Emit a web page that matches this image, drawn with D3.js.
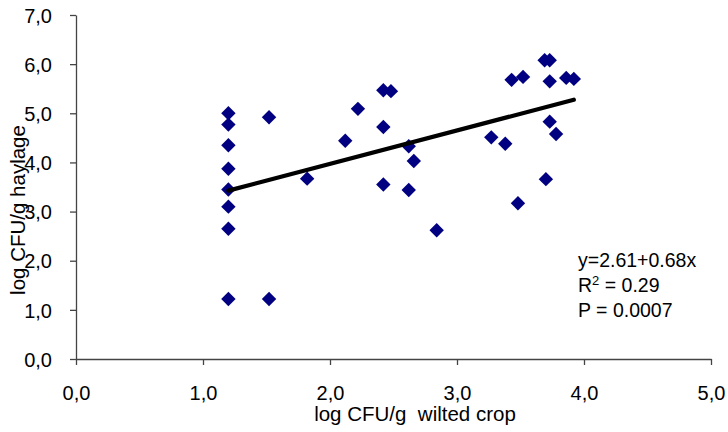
<!DOCTYPE html>
<html><head><meta charset="utf-8">
<script src="https://cdn.jsdelivr.net/npm/d3@7"></script>
<style>
html,body{margin:0;padding:0;background:#fff;}
text{font-family:"Liberation Sans",Arial,sans-serif;fill:#000;}
</style></head>
<body><svg id="c" width="728" height="432"></svg>
<script>
const xValues = [1.2,1.2,1.2,1.2,1.2,1.2,1.2,1.2,1.52,1.52,1.82,2.12,2.22,2.42,2.48,2.42,2.42,2.62,2.66,2.62,2.84,3.27,3.38,3.43,3.52,3.69,3.73,3.73,3.86,3.92,3.73,3.78,3.70,3.48];
const yValues = [5.0,4.77,4.35,3.87,3.45,3.10,2.65,1.22,4.92,1.22,3.67,4.44,5.09,5.47,5.45,4.72,3.55,4.33,4.03,3.44,2.62,4.51,4.38,5.68,5.74,6.08,6.08,5.65,5.72,5.70,4.83,4.58,3.66,3.17];
const fitIntercept = 2.61, fitSlope = 0.68;
const xTicks = [0,1,2,3,4,5];
const yTicks = [0,1,2,3,4,5,6,7];
const statLines = ["y=2.61+0.68x", "R", "2", " = 0.29", "P = 0.0007"];
const xTitle = "log CFU/g  wilted crop";
const yTitle = "log CFU/g haylage";

const svg = d3.select("#c");
const x = d3.scaleLinear().domain([0,5]).range([76,711]);
const y = d3.scaleLinear().domain([0,7]).range([359,15]);
const fmt = d => d.toFixed(1).replace(".", ",");

const xa = svg.append("g").attr("transform","translate(0,359)")
  .call(d3.axisBottom(x).tickValues(xTicks).tickSize(6).tickSizeOuter(0).tickFormat(fmt));
xa.selectAll("text").attr("font-size","20px").attr("dy","0").attr("y",41).attr("font-family","Liberation Sans, Arial, sans-serif");
const ya = svg.append("g").attr("transform","translate(76,0)")
  .call(d3.axisLeft(y).tickValues(yTicks).tickSize(6).tickSizeOuter(0).tickFormat(fmt));
ya.selectAll("text").attr("font-size","20px").attr("x",-24).attr("dy","0.36em").attr("font-family","Liberation Sans, Arial, sans-serif");
svg.selectAll(".domain, .tick line").attr("stroke","#444").attr("stroke-width",1.3);

// diamonds
const h = 7.2;
svg.append("g").selectAll("path").data(xValues.map((v,i)=>[v,yValues[i]])).join("path")
  .attr("d", d => `M${x(d[0])},${y(d[1])-h}L${x(d[0])+h},${y(d[1])}L${x(d[0])},${y(d[1])+h}L${x(d[0])-h},${y(d[1])}Z`)
  .attr("fill","#000080");

// trendline on top of markers
const xMin = d3.min(xValues), xMax = d3.max(xValues);
svg.append("line")
  .attr("x1",x(xMin)).attr("y1",y(fitIntercept+fitSlope*xMin))
  .attr("x2",x(xMax)).attr("y2",y(fitIntercept+fitSlope*xMax))
  .attr("stroke","#000").attr("stroke-width",4.2).attr("stroke-linecap","round");

// stats text
const st = svg.append("text").attr("x",578).attr("y",267).attr("font-size","19.5px");
st.append("tspan").attr("x",578).attr("y",267).text(statLines[0]);
const r = st.append("tspan").attr("x",578).attr("y",292);
r.append("tspan").text(statLines[1]);
r.append("tspan").attr("font-size","13px").attr("dy",-7).text(statLines[2]);
r.append("tspan").attr("dy",7).text(statLines[3]);
st.append("tspan").attr("x",578).attr("y",317).text(statLines[4]);

// axis titles
svg.append("text").attr("x",415).attr("y",421).attr("text-anchor","middle").attr("font-size","20.5px").attr("xml:space","preserve").style("white-space","pre").text(xTitle);
svg.append("text").attr("transform","translate(25,210) rotate(-90)").attr("text-anchor","middle").attr("font-size","20.5px").text(yTitle);
</script></body></html>
